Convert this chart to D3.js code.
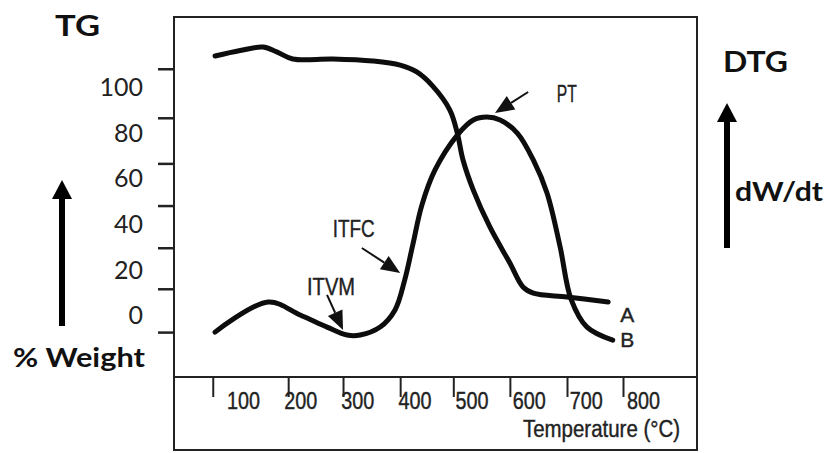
<!DOCTYPE html>
<html><head><meta charset="utf-8">
<script src="https://cdn.jsdelivr.net/npm/d3@7/dist/d3.min.js"></script>
<style>body{margin:0;background:#fff}svg{display:block}</style>
</head><body>
<svg id="c" width="828" height="453"></svg>
<script>
// ---- data ----
const tgTemp   = [51, 95, 135, 159, 187, 257, 327, 375, 404, 432, 462, 475, 485, 503, 532, 567, 590, 608, 667, 739];
const tgWeight = [113.6, 116, 117.5, 115.4, 112.3, 112.3, 111.4, 109.6, 106.6, 100.4, 89.9, 79.8, 68, 54.8, 38.6, 22.8, 12.3, 9.6, 7.9, 5.7];
const dtgTemp  = [51, 144, 200, 247, 282, 305, 340, 366, 383, 397, 413, 436, 475, 503, 527, 550, 580, 608, 632, 655, 674, 702, 747];
const dtgRate  = [-7.5, 5.7, 0, -5.3, -8.8, -8.8, -5.3, 2.2, 15.4, 30.7, 48.2, 63.6, 78.9, 85.5, 86.8, 85.5, 79.8, 68, 53.5, 29.8, 7, -5.3, -11];
const xTickTemps  = [47, 179, 275, 375, 468, 567, 667, 765];
const xTickLabels = [100, 200, 300, 400, 500, 600, 700, 800];
const yTickMarks  = [108, 86.5, 66.5, 48, 29.5, 11.5, -7.5];
const yTickLabels = [100, 80, 60, 40, 20, 0];
const curveNames  = ["A", "B"];
const annotationTexts = ["PT", "ITFC", "ITVM"];

// ---- drawing ----
const svg = d3.select("#c");
const frame = {left: 174, right: 697, top: 17, sep: 377, bottom: 450};
const x = d3.scaleLinear().domain([0, 800]).range([185.9, 643]);
const y = d3.scaleLinear().domain([0, 100]).range([315, 87]);
const narrow = "'Liberation Sans',Arial,sans-serif";
const bold = "Lato,'Open Sans',sans-serif";

function squeeze(sel, w) {
  sel.attr("textLength", w).attr("lengthAdjust", "spacingAndGlyphs")
    .attr("stroke", "#222").attr("stroke-width", 0.4);
}

// frame
svg.append("rect").attr("x", frame.left).attr("y", frame.top)
  .attr("width", frame.right - frame.left).attr("height", frame.bottom - frame.top)
  .attr("fill", "none").attr("stroke", "#222").attr("stroke-width", 2);
svg.append("line").attr("x1", frame.left).attr("x2", frame.right)
  .attr("y1", frame.sep).attr("y2", frame.sep).attr("stroke", "#222").attr("stroke-width", 2);

// x axis ticks
const xt = svg.append("g").attr("transform", `translate(0,${frame.sep})`)
  .call(d3.axisBottom(x).tickValues(xTickTemps).tickSize(20).tickFormat(""));
xt.select(".domain").remove();
xt.selectAll("line").attr("stroke", "#222").attr("stroke-width", 2);
const xl = svg.append("g").attr("transform", `translate(0,${frame.sep})`)
  .call(d3.axisBottom(x).tickValues(xTickLabels).tickSize(0).tickPadding(0));
xl.select(".domain").remove();
xl.selectAll("text").attr("y", 32).attr("dy", 0).attr("font-family", narrow)
  .attr("font-size", 23).attr("fill", "#222").call(squeeze, 33);
svg.append("text").attr("x", 523).attr("y", 437)
  .attr("font-family", narrow).attr("font-size", 23).attr("fill", "#222")
  .text("Temperature (°C)").call(squeeze, 157);

// y axis ticks
const yt = svg.append("g").attr("transform", `translate(${frame.left},0)`)
  .call(d3.axisLeft(y).tickValues(yTickMarks).tickSize(16).tickFormat(""));
yt.select(".domain").remove();
yt.selectAll("line").attr("stroke", "#222").attr("stroke-width", 2.5);
const yl = svg.append("g").attr("transform", `translate(${frame.left},0)`)
  .call(d3.axisLeft(y).tickValues(yTickLabels).tickSize(0).tickPadding(31));
yl.select(".domain").remove();
yl.selectAll("text").attr("font-family", "Lato,'Open Sans',sans-serif")
  .attr("font-size", 25).attr("fill", "#222").attr("dy", "0.35em");

// curves
const line = d3.line().x(d => x(d[0])).y(d => y(d[1])).curve(d3.curveCatmullRom.alpha(0.5));
const tg = tgTemp.map((t, i) => [t, tgWeight[i]]);
const dtg = dtgTemp.map((t, i) => [t, dtgRate[i]]);
[tg, dtg].forEach(s => svg.append("path").attr("d", line(s))
  .attr("fill", "none").attr("stroke", "#0d0d0d").attr("stroke-width", 5)
  .attr("stroke-linecap", "round").attr("stroke-linejoin", "round"));

// curve names
const namePos = [[760, -3.1], [760, -14]];
curveNames.forEach((n, i) => svg.append("text").attr("x", x(namePos[i][0])).attr("y", y(namePos[i][1]))
  .attr("font-family", narrow).attr("font-size", 21).attr("fill", "#222").text(n).call(squeeze, 14));

// annotations with arrows
const annPos = [
  {tx: 649, tv: 93.4, w: 20, from: [599, 97.8], to: [541, 88.6]},
  {tx: 257, tv: 34.2, w: 42, from: [308, 29.4], to: [375, 18.4]},
  {tx: 212, tv: 8.8,  w: 48, from: [247, 8.8],  to: [275, -6.6]}
];
annotationTexts.forEach((t, i) => {
  const p = annPos[i];
  svg.append("text").attr("x", x(p.tx)).attr("y", y(p.tv))
    .attr("font-family", narrow).attr("font-size", 24).attr("fill", "#222").text(t).call(squeeze, p.w);
  const x1 = x(p.from[0]), y1 = y(p.from[1]), x2 = x(p.to[0]), y2 = y(p.to[1]);
  const L = Math.hypot(x2 - x1, y2 - y1), ux = (x2 - x1) / L, uy = (y2 - y1) / L;
  const hl = 19, hw = 8;
  const bx = x2 - ux * hl, by = y2 - uy * hl;
  svg.append("line").attr("x1", x1).attr("y1", y1).attr("x2", bx).attr("y2", by)
    .attr("stroke", "#111").attr("stroke-width", 2);
  svg.append("path").attr("d", `M${x2},${y2}L${bx - uy * hw},${by + ux * hw}L${bx + uy * hw},${by - ux * hw}Z`)
    .attr("fill", "#111");
});

// side labels
function bigArrow(cx, top, bottom) {
  svg.append("line").attr("x1", cx).attr("x2", cx).attr("y1", top + 16).attr("y2", bottom)
    .attr("stroke", "#000").attr("stroke-width", 6);
  svg.append("path").attr("d", `M${cx},${top}L${cx - 10},${top + 19}L${cx + 10},${top + 19}Z`).attr("fill", "#000");
}
bigArrow(62, 180, 326);
bigArrow(727, 103, 248);
svg.append("text").attr("x", 55).attr("y", 36).attr("font-family", bold).attr("font-weight", 700)
  .attr("font-size", 28).attr("fill", "#111").text("TG")
  .attr("textLength", 45).attr("lengthAdjust", "spacingAndGlyphs");
svg.append("text").attr("x", 13).attr("y", 367).attr("font-family", bold).attr("font-weight", 700)
  .attr("font-size", 26).attr("fill", "#111").text("% Weight")
  .attr("textLength", 132).attr("lengthAdjust", "spacingAndGlyphs");
svg.append("text").attr("x", 723).attr("y", 72).attr("font-family", bold).attr("font-weight", 700)
  .attr("font-size", 28).attr("fill", "#111").text("DTG")
  .attr("textLength", 65).attr("lengthAdjust", "spacingAndGlyphs");
svg.append("text").attr("x", 735).attr("y", 201).attr("font-family", bold).attr("font-weight", 700)
  .attr("font-size", 26).attr("fill", "#111").text("dW/dt")
  .attr("textLength", 88).attr("lengthAdjust", "spacingAndGlyphs");
</script>
</body></html>
